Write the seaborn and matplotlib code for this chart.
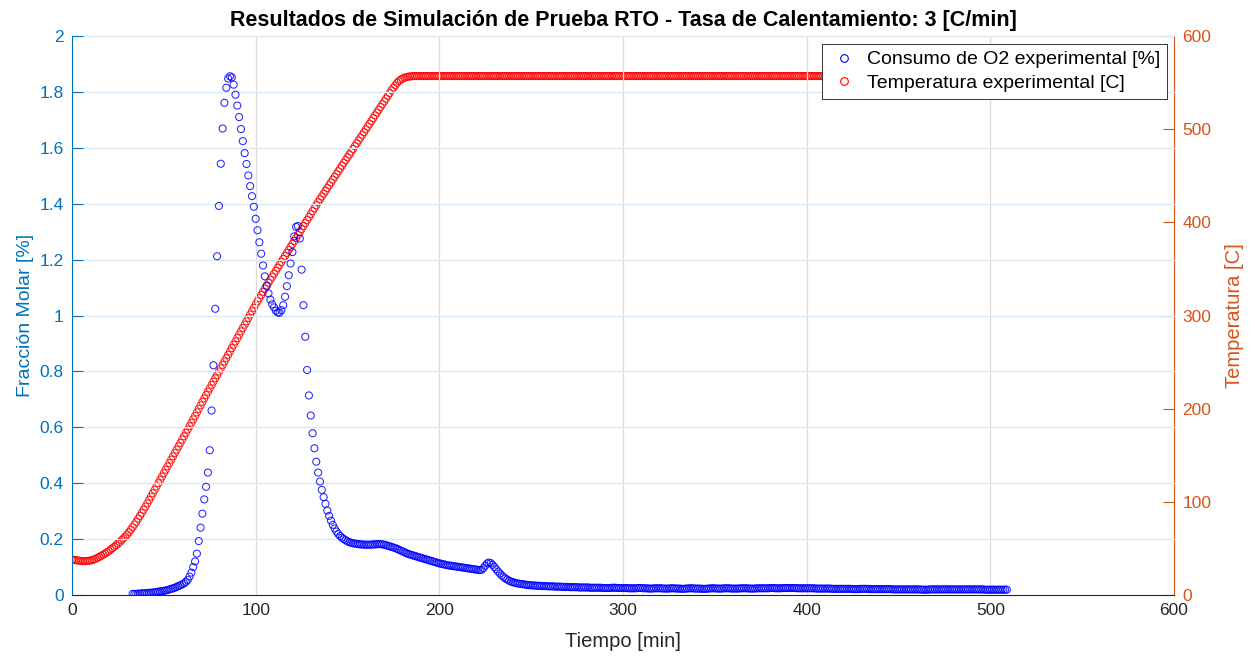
import numpy as np
import matplotlib
matplotlib.use("Agg")
import matplotlib.pyplot as plt
import seaborn as sns
from matplotlib.lines import Line2D

# ---------------- data ----------------
temp_start_min = 0          # first temperature sample [min], one sample per minute
temperature_c = [
    38.0, 37.8, 37.5, 37.2, 36.8, 36.5, 36.4, 36.4, 36.5, 36.7,
    37.0, 37.5, 38.2, 39.0, 40.0, 41.0, 42.1, 43.3, 44.5, 45.8,
    47.2, 48.7, 50.2, 51.8, 53.4, 55.1, 57.0, 58.9, 60.8, 62.8,
    64.9, 67.4, 70.0, 72.7, 75.6, 78.6, 81.8, 85.0, 88.2, 91.5,
    94.8, 98.4, 102.0, 105.6, 109.2, 112.8, 116.4, 120.0, 123.6, 127.2,
    130.8, 134.4, 138.0, 141.6, 145.2, 148.8, 152.4, 156.0, 159.6, 163.2,
    166.8, 170.4, 174.0, 177.6, 181.2, 184.8, 188.5, 192.2, 196.0, 199.8,
    203.6, 207.3, 211.0, 214.6, 218.2, 221.8, 225.4, 229.0, 232.6, 236.2,
    239.8, 243.4, 247.0, 250.6, 254.2, 257.8, 261.4, 265.0, 268.6, 272.2,
    275.8, 279.4, 283.0, 286.6, 290.2, 293.8, 297.4, 301.0, 304.6, 308.2,
    311.8, 315.2, 318.6, 322.0, 325.4, 328.8, 332.0, 335.2, 338.4, 341.6,
    344.8, 348.0, 351.2, 354.4, 357.6, 360.8, 364.0, 367.2, 370.4, 373.6,
    376.8, 380.0, 383.2, 386.4, 389.6, 392.8, 396.0, 399.2, 402.4, 405.6,
    408.8, 412.0, 415.2, 418.4, 421.6, 424.8, 427.8, 430.8, 433.8, 436.8,
    439.8, 442.8, 445.8, 448.8, 451.8, 454.8, 457.8, 460.8, 463.8, 466.8,
    469.8, 472.8, 475.8, 478.8, 481.8, 484.8, 487.8, 490.8, 493.8, 496.8,
    499.8, 502.8, 505.8, 508.8, 511.8, 514.8, 517.8, 520.8, 523.8, 526.8,
    529.8, 532.8, 535.8, 538.8, 541.8, 544.6, 547.2, 549.6, 551.6, 553.2,
    554.4, 555.3, 555.9, 556.3, 556.6, 556.8, 556.9, 557.0, 557.0, 557.0,
    557, 557, 557, 557, 557, 557, 557, 557, 557, 557,
    557, 557, 557, 557, 557, 557, 557, 557, 557, 557,
    557, 557, 557, 557, 557, 557, 557, 557, 557, 557,
    557, 557, 557, 557, 557, 557, 557, 557, 557, 557,
    557, 557, 557, 557, 557, 557, 557, 557, 557, 557,
    557, 557, 557, 557, 557, 557, 557, 557, 557, 557,
    557, 557, 557, 557, 557, 557, 557, 557, 557, 557,
    557, 557, 557, 557, 557, 557, 557, 557, 557, 557,
    557, 557, 557, 557, 557, 557, 557, 557, 557, 557,
    557, 557, 557, 557, 557, 557, 557, 557, 557, 557,
    557, 557, 557, 557, 557, 557, 557, 557, 557, 557,
    557, 557, 557, 557, 557, 557, 557, 557, 557, 557,
    557, 557, 557, 557, 557, 557, 557, 557, 557, 557,
    557, 557, 557, 557, 557, 557, 557, 557, 557, 557,
    557, 557, 557, 557, 557, 557, 557, 557, 557, 557,
    557, 557, 557, 557, 557, 557, 557, 557, 557, 557,
    557, 557, 557, 557, 557, 557, 557, 557, 557, 557,
    557, 557, 557, 557, 557, 557, 557, 557, 557, 557,
    557, 557, 557, 557, 557, 557, 557, 557, 557, 557,
    557, 557, 557, 557, 557, 557, 557, 557, 557, 557,
    557, 557, 557, 557, 557, 557, 557, 557, 557, 557,
    557, 557, 557, 557, 557, 557, 557, 557, 557, 557,
    557, 557, 557, 557, 557, 557, 557, 557, 557, 557,
    557, 557, 557, 557, 557, 557, 557, 557, 557, 557,
    557, 557, 557, 557, 557, 557, 557, 557, 557, 557,
    557, 557, 557, 557, 557, 557, 557, 557, 557, 557,
    557, 557, 557, 557, 557, 557, 557, 557, 557, 557,
    557, 557, 557, 557, 557, 557, 557, 557, 557, 557,
    557, 557, 557, 557, 557, 557, 557, 557, 557, 557,
    557, 557, 557, 557, 557, 557, 557, 557, 557, 557,
    557, 557, 557, 557, 557, 557, 557, 557, 557, 557,
    557, 557, 557, 557, 557, 557, 557, 557, 557, 557,
    557, 557, 557, 557, 557, 557, 557, 557, 557, 557,
    557, 557, 557, 557, 557, 557, 557, 557, 557, 557,
    557, 557, 557, 557, 557, 557, 557,
]

o2_start_min = 33           # first O2 sample [min], one sample per minute
o2_consumption_pct = [
    0.004, 0.004, 0.004, 0.005, 0.005, 0.006, 0.006,
    0.007, 0.007, 0.008, 0.008, 0.009, 0.010, 0.011, 0.012, 0.013, 0.014,
    0.015, 0.016, 0.018, 0.020, 0.022, 0.024, 0.026, 0.029, 0.032, 0.035,
    0.038, 0.042, 0.047, 0.054, 0.066, 0.080, 0.100, 0.120, 0.148, 0.193,
    0.241, 0.291, 0.342, 0.387, 0.438, 0.518, 0.660, 0.822, 1.024, 1.212,
    1.392, 1.543, 1.669, 1.761, 1.815, 1.848, 1.856, 1.852, 1.826, 1.790,
    1.751, 1.710, 1.667, 1.624, 1.581, 1.542, 1.501, 1.463, 1.427, 1.389,
    1.346, 1.305, 1.262, 1.221, 1.179, 1.140, 1.106, 1.079, 1.057, 1.040,
    1.029, 1.017, 1.011, 1.010, 1.019, 1.037, 1.067, 1.105, 1.144, 1.186,
    1.227, 1.283, 1.317, 1.320, 1.275, 1.164, 1.037, 0.924, 0.805, 0.714,
    0.642, 0.579, 0.525, 0.477, 0.438, 0.406, 0.376, 0.350, 0.326, 0.302,
    0.283, 0.266, 0.251, 0.238, 0.227, 0.218, 0.211, 0.205, 0.200, 0.196,
    0.192, 0.189, 0.187, 0.185, 0.184, 0.183, 0.182, 0.181, 0.181, 0.180,
    0.180, 0.180, 0.180, 0.180, 0.181, 0.181, 0.182, 0.182, 0.182, 0.181,
    0.180, 0.178, 0.176, 0.174, 0.172, 0.170, 0.168, 0.165, 0.162, 0.159,
    0.156, 0.153, 0.150, 0.147, 0.145, 0.143, 0.141, 0.139, 0.137, 0.135,
    0.133, 0.131, 0.129, 0.127, 0.125, 0.123, 0.121, 0.119, 0.117, 0.115,
    0.113, 0.112, 0.110, 0.109, 0.107, 0.106, 0.105, 0.104, 0.103, 0.102,
    0.101, 0.100, 0.099, 0.098, 0.097, 0.096, 0.095, 0.094, 0.093, 0.092,
    0.091, 0.090, 0.089, 0.090, 0.096, 0.105, 0.113, 0.116, 0.114, 0.108,
    0.100, 0.092, 0.084, 0.077, 0.070, 0.064, 0.059, 0.055, 0.051, 0.048,
    0.046, 0.044, 0.042, 0.041, 0.040, 0.039, 0.038, 0.037, 0.036, 0.035,
    0.035, 0.034, 0.034, 0.033, 0.033, 0.033, 0.032, 0.032, 0.032, 0.031,
    0.031, 0.031, 0.031, 0.030, 0.030, 0.030, 0.030, 0.029, 0.029, 0.029,
    0.029, 0.028, 0.028, 0.028, 0.028, 0.028, 0.027, 0.027, 0.027, 0.027,
    0.027, 0.027, 0.026, 0.026, 0.026, 0.026, 0.026, 0.026, 0.026, 0.025,
    0.025, 0.025, 0.025, 0.025, 0.026, 0.026, 0.026, 0.025, 0.025, 0.025,
    0.025, 0.025, 0.025, 0.024, 0.024, 0.024, 0.024, 0.024, 0.025, 0.025,
    0.025, 0.024, 0.024, 0.024, 0.023, 0.023, 0.023, 0.024, 0.024, 0.024,
    0.024, 0.024, 0.023, 0.023, 0.023, 0.023, 0.024, 0.024, 0.024, 0.023,
    0.023, 0.023, 0.022, 0.022, 0.023, 0.023, 0.024, 0.024, 0.024, 0.023,
    0.023, 0.023, 0.023, 0.022, 0.022, 0.022, 0.023, 0.023, 0.024, 0.024,
    0.024, 0.023, 0.023, 0.023, 0.023, 0.024, 0.024, 0.024, 0.024, 0.023,
    0.023, 0.023, 0.023, 0.023, 0.024, 0.024, 0.024, 0.024, 0.024, 0.023,
    0.023, 0.023, 0.023, 0.024, 0.024, 0.024, 0.024, 0.024, 0.024, 0.024,
    0.025, 0.025, 0.025, 0.024, 0.024, 0.024, 0.024, 0.025, 0.025, 0.025,
    0.025, 0.025, 0.025, 0.025, 0.025, 0.024, 0.024, 0.024, 0.024, 0.024,
    0.024, 0.024, 0.024, 0.024, 0.024, 0.023, 0.023, 0.023, 0.023, 0.023,
    0.023, 0.023, 0.023, 0.023, 0.022, 0.022, 0.022, 0.022, 0.022, 0.022,
    0.022, 0.022, 0.022, 0.022, 0.022, 0.021, 0.021, 0.021, 0.021, 0.022,
    0.022, 0.022, 0.022, 0.022, 0.021, 0.021, 0.021, 0.021, 0.021, 0.021,
    0.021, 0.021, 0.021, 0.021, 0.021, 0.021, 0.021, 0.020, 0.020, 0.020,
    0.020, 0.020, 0.020, 0.020, 0.020, 0.020, 0.020, 0.020, 0.020, 0.020,
    0.020, 0.020, 0.020, 0.019, 0.019, 0.019, 0.019, 0.020, 0.020, 0.020,
    0.020, 0.020, 0.020, 0.020, 0.020, 0.020, 0.020, 0.020, 0.020, 0.020,
    0.020, 0.020, 0.020, 0.020, 0.020, 0.020, 0.020, 0.020, 0.020, 0.020,
    0.020, 0.020, 0.020, 0.020, 0.020, 0.020, 0.020, 0.019, 0.019, 0.019,
    0.019, 0.019, 0.019, 0.019, 0.019, 0.019, 0.019, 0.019, 0.019, 0.019,
]

title_text = "Resultados de Simulación de Prueba RTO - Tasa de Calentamiento: 3 [C/min]"
x_label = "Tiempo [min]"
y_left_label = "Fracción Molar [%]"
y_right_label = "Temperatura [C]"
legend_labels = ["Consumo de O2 experimental [%]", "Temperatura experimental [C]"]
x_ticks = [0, 100, 200, 300, 400, 500, 600]
y_left_ticks = [0, 0.2, 0.4, 0.6, 0.8, 1.0, 1.2, 1.4, 1.6, 1.8, 2.0]
y_left_ticklabels = ["0", "0.2", "0.4", "0.6", "0.8", "1", "1.2", "1.4", "1.6", "1.8", "2"]
y_right_ticks = [0, 100, 200, 300, 400, 500, 600]

# ---------------- style ----------------
LEFT_C = "#0072BD"
RIGHT_C = "#D95319"
DARK = "#262626"

sns.set_theme(style="white")
plt.rcParams["font.family"] = ["Liberation Sans", "DejaVu Sans"]

W, H = 1255, 656
fig = plt.figure(figsize=(W / 100, H / 100), dpi=100)
ax = fig.add_axes([72 / W, 1 - 595 / H, (1174 - 72) / W, (595 - 36) / H])
ax2 = ax.twinx()

t_temp = temp_start_min + np.arange(len(temperature_c))
t_o2 = o2_start_min + np.arange(len(o2_consumption_pct))

# temperature on the right axis (drawn below)
sns.scatterplot(x=t_temp, y=temperature_c, ax=ax2, marker="o", s=26,
                color="red", linewidth=0.75, legend=False)
ax2.collections[-1].set_facecolor("none")
ax2.collections[-1].set_edgecolor((1, 0, 0, 0.85))

# O2 on the left axis (drawn on top)
sns.scatterplot(x=t_o2, y=o2_consumption_pct, ax=ax, marker="o", s=26,
                color="blue", linewidth=0.75, legend=False)
ax.collections[-1].set_facecolor("none")
ax.collections[-1].set_edgecolor((0, 0, 1, 0.85))

ax.set_zorder(ax2.get_zorder() + 1)
ax.patch.set_visible(False)
ax2.patch.set_facecolor("white")

# limits & ticks
ax.set_xlim(0, 600)
ax.set_ylim(0, 2)
ax2.set_ylim(0, 600)
ax.set_xticks(x_ticks)
ax.set_xticklabels([str(v) for v in x_ticks])
ax.set_yticks(y_left_ticks)
ax.set_yticklabels(y_left_ticklabels)
ax2.set_yticks(y_right_ticks)
ax2.set_yticklabels([str(v) for v in y_right_ticks])

tick_fs = 12.5
ax.tick_params(axis="x", direction="in", length=8, width=0.8, colors=DARK,
               labelsize=tick_fs, pad=6, top=False)
ax.tick_params(axis="y", direction="in", length=8, width=0.8, colors=LEFT_C,
               labelsize=tick_fs, pad=6, right=False)
ax2.tick_params(axis="y", direction="in", length=8, width=0.8, colors=RIGHT_C,
                labelsize=tick_fs, pad=6, left=False)

# grid (MATLAB-like)
ax.grid(False)
ax2.grid(False)
for xv in x_ticks[1:-1]:
    ax.axvline(xv, color="#dcdcdc", lw=0.9, zorder=0)
for yv in y_left_ticks[1:]:
    ax.axhline(yv, color="#d7e8f4", lw=0.9, zorder=0, clip_on=False)

# spines
for a in (ax, ax2):
    a.spines["top"].set_visible(False)
ax.spines["left"].set_color(LEFT_C)
ax.spines["right"].set_visible(False)
ax.spines["bottom"].set_color(DARK)
ax2.spines["left"].set_visible(False)
ax2.spines["bottom"].set_visible(False)
ax2.spines["right"].set_color(RIGHT_C)
for a in (ax, ax2):
    for s in a.spines.values():
        s.set_linewidth(0.8)

# labels
ax.set_xlabel(x_label, fontsize=14.5, color=DARK, labelpad=10)
ax.set_ylabel(y_left_label, fontsize=14, color=LEFT_C, labelpad=4)
ax2.set_ylabel(y_right_label, fontsize=14.5, color=RIGHT_C, labelpad=10)
ax.set_title(title_text, fontsize=15.5, fontweight="bold", color="black", pad=7)

# legend
handles = [
    Line2D([], [], ls="none", marker="o", ms=5.5, mfc="none", mec="blue", mew=0.8),
    Line2D([], [], ls="none", marker="o", ms=5.5, mfc="none", mec="red", mew=0.8),
]
leg = ax.legend(handles, legend_labels, loc="upper right",
                bbox_to_anchor=((1167 - 72) / 1102, (595 - 44) / 559),
                borderaxespad=0, fontsize=14, frameon=True, fancybox=False,
                framealpha=1, edgecolor="#333333", handlelength=1.6,
                handletextpad=0.36, borderpad=0.35, labelspacing=0.32)
leg.get_frame().set_linewidth(0.7)
for txt in leg.get_texts():
    txt.set_color("black")

fig.savefig("out.png", dpi=100, facecolor="white")
